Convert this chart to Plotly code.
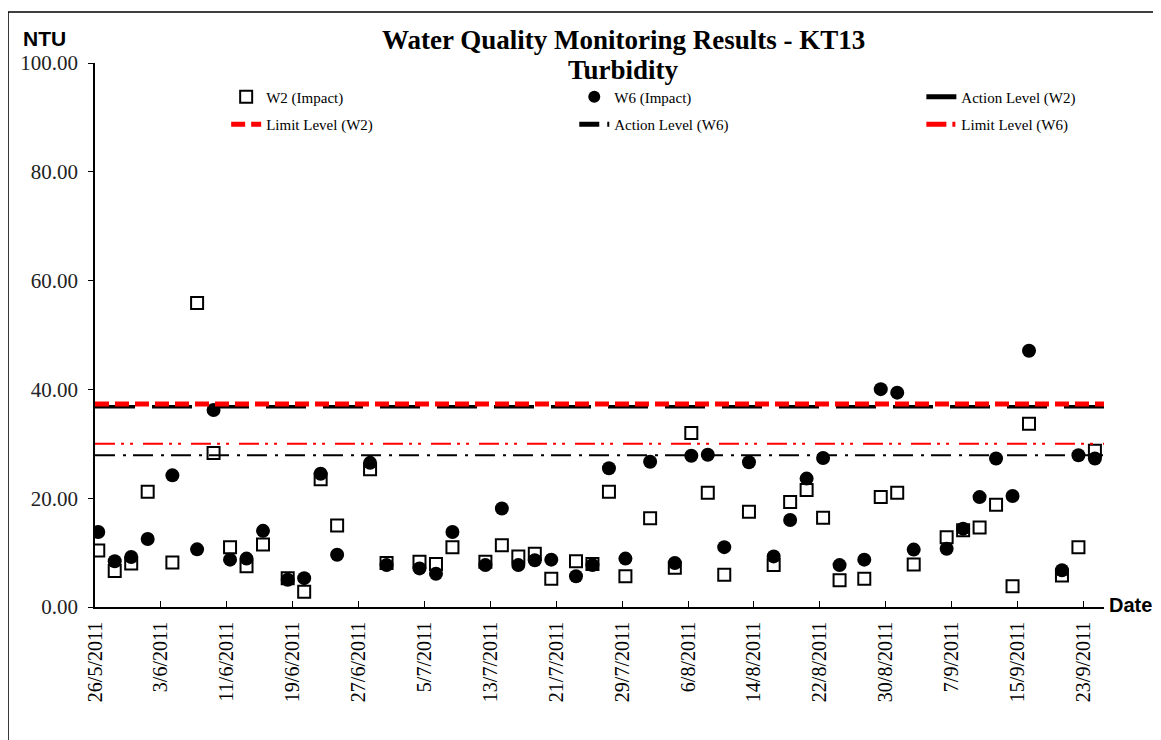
import plotly.graph_objects as go

# ---- data ----
sample_dates = [
    "2011-05-26", "2011-05-28", "2011-05-30", "2011-06-01", "2011-06-04", "2011-06-07",
    "2011-06-09", "2011-06-11", "2011-06-13", "2011-06-15", "2011-06-18", "2011-06-20",
    "2011-06-22", "2011-06-24", "2011-06-28", "2011-06-30", "2011-07-04", "2011-07-06",
    "2011-07-08", "2011-07-12", "2011-07-14", "2011-07-16", "2011-07-18", "2011-07-20",
    "2011-07-23", "2011-07-25", "2011-07-27", "2011-07-29", "2011-08-01", "2011-08-04",
    "2011-08-06", "2011-08-08", "2011-08-10", "2011-08-13", "2011-08-16", "2011-08-18",
    "2011-08-20", "2011-08-22", "2011-08-24", "2011-08-27", "2011-08-29", "2011-08-31",
    "2011-09-02", "2011-09-06", "2011-09-08", "2011-09-10", "2011-09-12", "2011-09-14",
    "2011-09-16", "2011-09-20", "2011-09-22", "2011-09-24",
]
sample_time = "09:30"

w2_impact = [
    10.4, 6.6, 8.0, 21.2, 8.2, 55.9, 28.3, 11.0, 7.5, 11.5, 5.3, 2.8,
    23.5, 15.0, 25.3, 8.1, 8.3, 7.9, 11.0, 8.3, 11.35, 9.3, 9.8, 5.2,
    8.4, 7.9, 21.2, 5.65, 16.3, 7.2, 32.0, 21.0, 5.95, 17.5, 7.7, 19.3,
    21.5, 16.4, 4.9, 5.2, 20.2, 21.0, 7.8, 12.8, 14.1, 14.6, 18.8, 3.8,
    33.7, 5.8, 11.0, 28.7,
]
w6_impact = [
    13.8, 8.4, 9.2, 12.5, 24.2, 10.6, 36.2, 8.7, 8.9, 14.0, 5.0, 5.3,
    24.5, 9.6, 26.5, 7.7, 7.1, 6.1, 13.8, 7.7, 18.1, 7.7, 8.6, 8.7,
    5.65, 7.7, 25.5, 8.9, 26.7, 8.1, 27.8, 28.0, 11.0, 26.6, 9.3, 16.0,
    23.6, 27.4, 7.7, 8.7, 40.05, 39.4, 10.55, 10.7, 14.4, 20.2, 27.3, 20.4,
    47.1, 6.75, 27.9, 27.3,
]

action_level_w2 = 36.8
limit_level_w2 = 37.3
action_level_w6 = 27.9
limit_level_w6 = 30.0

axis_start = "2011-05-26"
axis_end = "2011-09-25 12:00"
y_ticks = [0, 20, 40, 60, 80, 100]
y_tick_labels = ["0.00", "20.00", "40.00", "60.00", "80.00", "100.00"]

title_line1 = "Water Quality Monitoring Results - KT13"
title_line2 = "Turbidity"

# ---- figure ----
serif = "Liberation Serif, Times New Roman, serif"
narrow = "Liberation Sans Narrow, Arial Narrow, Liberation Sans, sans-serif"

x_samples = [d + " " + sample_time for d in sample_dates]

fig = go.Figure()

fig.add_trace(go.Scatter(
    x=x_samples, y=w2_impact, mode="markers", name="W2 (Impact)",
    legend="legend", legendgroup="a", legendrank=1,
    marker=dict(symbol="square", size=12, color="white", line=dict(color="black", width=2)),
))
fig.add_trace(go.Scatter(
    x=x_samples, y=w6_impact, mode="markers", name="W6 (Impact)",
    legend="legend2", legendgroup="b", legendrank=1,
    marker=dict(symbol="circle", size=14, color="black", line=dict(width=0)),
))
fig.add_trace(go.Scatter(
    x=[axis_start, axis_end], y=[action_level_w2] * 2, mode="lines",
    name="Action Level (W2)", legend="legend3", legendgroup="c", legendrank=1,
    line=dict(color="black", width=3.5, dash="40px,17px"),
))
fig.add_trace(go.Scatter(
    x=[axis_start, axis_end], y=[limit_level_w2] * 2, mode="lines",
    name="Limit Level (W2)", legend="legend", legendgroup="d", legendrank=2,
    line=dict(color="#FF0000", width=5, dash="14px,6px"),
))
fig.add_trace(go.Scatter(
    x=[axis_start, axis_end], y=[action_level_w6] * 2, mode="lines",
    name="Action Level (W6)", legend="legend2", legendgroup="e", legendrank=2,
    line=dict(color="black", width=2, dash="20px,8px,3px,7px"),
))
fig.add_trace(go.Scatter(
    x=[axis_start, axis_end], y=[limit_level_w6] * 2, mode="lines",
    name="Limit Level (W6)", legend="legend3", legendgroup="f", legendrank=2,
    line=dict(color="#FF0000", width=2, dash="20px,6px,3px,6px,3px,10px"),
))

legend_common = dict(
    orientation="v", yanchor="top", xanchor="left", y=0.968,
    itemsizing="constant", tracegroupgap=5, traceorder="grouped",
    font=dict(family=serif, size=15, color="black"),
    bgcolor="rgba(0,0,0,0)",
)

fig.update_layout(
    width=1153, height=732,
    margin=dict(l=87, r=57, t=55, b=133, pad=0),
    paper_bgcolor="white", plot_bgcolor="white",
    font=dict(family=serif, color="black"),
    showlegend=True,
    legend=dict(x=0.13, **legend_common),
    legend2=dict(x=0.475, **legend_common),
    legend3=dict(x=0.819, **legend_common),
    xaxis=dict(
        type="date", range=[axis_start, axis_end], automargin=False,
        tick0=axis_start, dtick=8 * 86400000, tickformat="%-d/%-m/%Y",
        tickangle=-90, ticks="inside", ticklen=6, tickcolor="black",
        ticklabelstandoff=5,
        showline=True, linecolor="black", linewidth=1.5,
        showgrid=False, zeroline=False,
        tickfont=dict(family=serif, size=20, color="black"),
    ),
    yaxis=dict(
        range=[0, 100], tickvals=y_ticks, ticktext=y_tick_labels, automargin=False,
        ticks="outside", ticklen=5, tickcolor="black", ticklabelstandoff=6,
        showline=True, linecolor="black", linewidth=1.5,
        showgrid=False, zeroline=False,
        tickfont=dict(family=serif, size=21, color="#222222"),
    ),
    annotations=[
        dict(text="<b>" + title_line1 + "</b>", xref="paper", yref="paper",
             x=0.524, y=1.043, xanchor="center", yanchor="middle", showarrow=False,
             font=dict(family=serif, size=27, color="black")),
        dict(text="<b>" + title_line2 + "</b>", xref="paper", yref="paper",
             x=0.524, y=0.987, xanchor="center", yanchor="middle", showarrow=False,
             font=dict(family=serif, size=27, color="black")),
        dict(text="<b>NTU</b>", xref="paper", yref="paper",
             x=-0.05, y=1.045, xanchor="center", yanchor="middle", showarrow=False,
             font=dict(family=narrow, size=21, color="black")),
        dict(text="<b>Date</b>", xref="paper", yref="paper",
             x=1.003, y=0.004, xanchor="left", yanchor="middle", showarrow=False,
             font=dict(family=narrow, size=20, color="black")),
    ],
    shapes=[
        dict(type="rect", xref="paper", yref="paper",
             x0=-0.0862, x1=1.2, y0=-0.4, y1=1.0938,
             line=dict(color="black", width=1.5), fillcolor="rgba(0,0,0,0)", layer="below"),
    ],
)

fig.write_html("out.html")
